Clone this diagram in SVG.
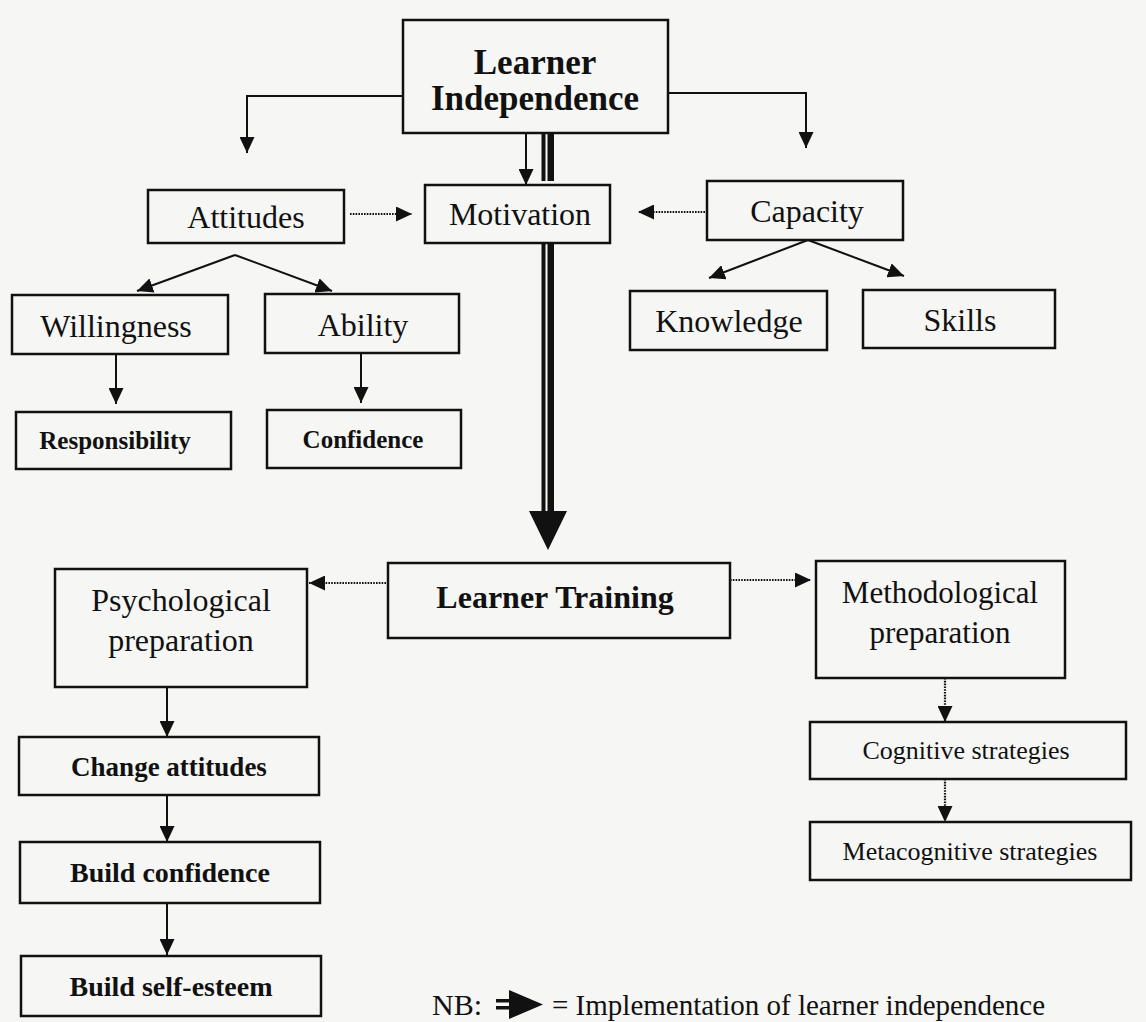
<svg xmlns="http://www.w3.org/2000/svg" width="1146" height="1022" viewBox="0 0 1146 1022">
<style>
.box{fill:none;stroke:#111;stroke-width:2.5}
.t{font-family:"Liberation Serif","Times New Roman",serif;fill:#111;text-anchor:middle}
.m{font-size:32px}
.b{font-weight:bold}
.ln{fill:none;stroke:#111;stroke-width:2}
.dt{fill:none;stroke:#111;stroke-width:2.2;stroke-dasharray:1.6 1.2}
</style>
<defs>
<marker id="ah" markerUnits="userSpaceOnUse" markerWidth="17" markerHeight="15" refX="16" refY="7.5" orient="auto">
<path d="M0,0 L16,7.5 L0,15 Z" fill="#111"/>
</marker>
</defs>
<rect width="1146" height="1022" fill="#f6f6f4"/>
<g id="connectors">
<path class="ln" d="M403,96 H247 V153" marker-end="url(#ah)"/>
<path class="ln" d="M668,93 H806 V148" marker-end="url(#ah)"/>
<path class="ln" d="M526,133 V185" marker-end="url(#ah)"/>
<path class="dt" d="M350,214 H412" marker-end="url(#ah)"/>
<path class="dt" d="M705,212 H638" marker-end="url(#ah)"/>
<path class="ln" d="M235,255 L137,291" marker-end="url(#ah)"/>
<path class="ln" d="M235,255 L332,291" marker-end="url(#ah)"/>
<path class="ln" d="M808,240 L709,278" marker-end="url(#ah)"/>
<path class="ln" d="M808,240 L904,276" marker-end="url(#ah)"/>
<path class="ln" d="M116,354 V404" marker-end="url(#ah)"/>
<path class="ln" d="M361,353 V403" marker-end="url(#ah)"/>
<path class="dt" d="M386,583 H309" marker-end="url(#ah)"/>
<path class="dt" d="M730,580 H811" marker-end="url(#ah)"/>
<path class="ln" d="M167,687 V737" marker-end="url(#ah)"/>
<path class="ln" d="M167,795 V842" marker-end="url(#ah)"/>
<path class="ln" d="M167,903 V955" marker-end="url(#ah)"/>
<path class="dt" d="M945,678 V722" marker-end="url(#ah)"/>
<path class="dt" d="M945,779 V822" marker-end="url(#ah)"/>
<g id="implementation-arrow" fill="#111">
<rect x="541.5" y="133" width="4" height="48"/>
<rect x="547.5" y="133" width="6.5" height="48"/>
<rect x="541.5" y="244" width="4" height="270"/>
<rect x="547.5" y="244" width="6.5" height="270"/>
<path d="M529,511 L567,511 L548,550 Z"/>
</g>
</g>
<g id="learner-independence"><rect class="box" x="403" y="20" width="265" height="113"/><text class="t b" x="535" y="74" font-size="35">Learner</text><text class="t b" x="535" y="110" font-size="35">Independence</text></g>
<g id="attitudes"><rect class="box" x="148" y="190" width="196" height="53"/><text class="t m" x="246" y="228">Attitudes</text></g>
<g id="motivation"><rect class="box" x="425" y="185" width="185" height="58"/><text class="t m" x="520" y="225">Motivation</text></g>
<g id="capacity"><rect class="box" x="707" y="181" width="196" height="59"/><text class="t m" x="807" y="222">Capacity</text></g>
<g id="willingness"><rect class="box" x="12" y="295" width="216" height="59"/><text class="t m" x="116" y="337">Willingness</text></g>
<g id="ability"><rect class="box" x="265" y="294" width="194" height="59"/><text class="t m" x="363" y="336">Ability</text></g>
<g id="knowledge"><rect class="box" x="630" y="291" width="197" height="59"/><text class="t m" x="729" y="332">Knowledge</text></g>
<g id="skills"><rect class="box" x="863" y="290" width="192" height="58"/><text class="t m" x="960" y="331">Skills</text></g>
<g id="responsibility"><rect class="box" x="16" y="412" width="215" height="57"/><text class="t b" x="115" y="449" font-size="25">Responsibility</text></g>
<g id="confidence"><rect class="box" x="267" y="410" width="194" height="58"/><text class="t b" x="363" y="448" font-size="25">Confidence</text></g>
<g id="learner-training"><rect class="box" x="388" y="563" width="342" height="75"/><text class="t b" x="555" y="608" font-size="32">Learner Training</text></g>
<g id="psychological-preparation"><rect class="box" x="55" y="569" width="252" height="118"/><text class="t m" x="181" y="611">Psychological</text><text class="t m" x="181" y="651">preparation</text></g>
<g id="methodological-preparation"><rect class="box" x="816" y="561" width="249" height="117"/><text class="t" x="940" y="603" font-size="31">Methodological</text><text class="t" x="940" y="643" font-size="31">preparation</text></g>
<g id="change-attitudes"><rect class="box" x="19" y="737" width="300" height="58"/><text class="t b" x="169" y="776" font-size="27">Change attitudes</text></g>
<g id="build-confidence"><rect class="box" x="20" y="842" width="300" height="61"/><text class="t b" x="170" y="882" font-size="28">Build confidence</text></g>
<g id="build-self-esteem"><rect class="box" x="21" y="956" width="300" height="60"/><text class="t b" x="171" y="996" font-size="28">Build self-esteem</text></g>
<g id="cognitive-strategies"><rect class="box" x="810" y="722" width="316" height="57"/><text class="t" x="966" y="759" font-size="26">Cognitive strategies</text></g>
<g id="metacognitive-strategies"><rect class="box" x="810" y="822" width="321" height="58"/><text class="t" x="970" y="860" font-size="26">Metacognitive strategies</text></g>
<g id="legend">
<text class="t" x="432" y="1015" font-size="30" style="text-anchor:start">NB:</text>
<rect x="496" y="999" width="17" height="3.5" fill="#111"/>
<rect x="496" y="1006" width="17" height="3.5" fill="#111"/>
<path d="M509,990 L509,1019 L543,1004.5 Z" fill="#111"/>
<text class="t" x="552" y="1015" font-size="29" style="text-anchor:start">= Implementation of learner independence</text>
</g>
</svg>
